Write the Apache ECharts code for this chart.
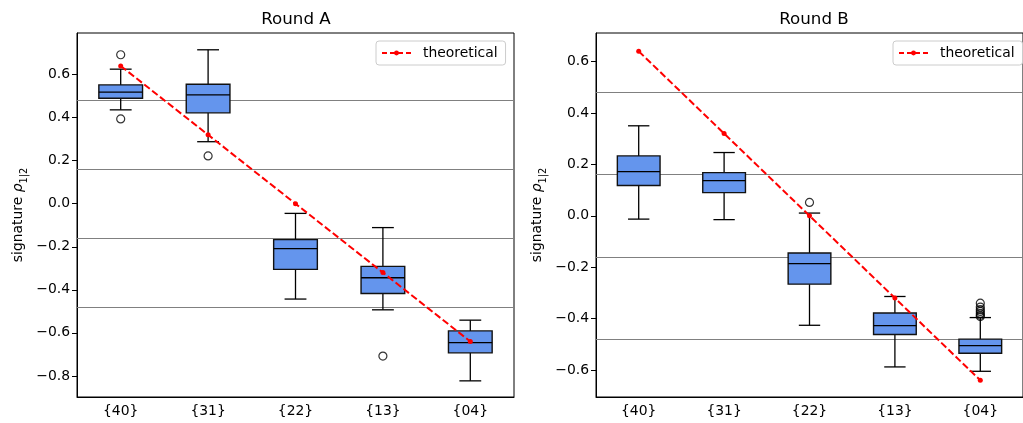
<!DOCTYPE html>
<html><head><meta charset="utf-8">
<script src="https://cdn.jsdelivr.net/npm/echarts@6/dist/echarts.min.js"></script>
<style>html,body{margin:0;padding:0;background:#fff}#c{width:1023px;height:423px}</style>
</head><body><div id="c"></div>
<script>
const categories = ['{40}', '{31}', '{22}', '{13}', '{04}'];
const theoretical = [0.64, 0.32, 0, -0.32, -0.64];
const refLines = [0.48, 0.16, -0.16, -0.48];
// each box: [lower whisker, Q1, median, Q3, upper whisker]
const boxA = [
  [0.436, 0.490, 0.518, 0.552, 0.625],
  [0.288, 0.422, 0.506, 0.555, 0.715],
  [-0.443, -0.305, -0.209, -0.167, -0.045],
  [-0.493, -0.417, -0.344, -0.291, -0.111],
  [-0.823, -0.693, -0.645, -0.591, -0.541]
];
const outliersA = [[0, 0.692], [0, 0.394], [1, 0.222], [3, -0.708]];
const boxB = [
  [-0.013, 0.118, 0.172, 0.233, 0.350],
  [-0.015, 0.090, 0.137, 0.168, 0.246],
  [-0.426, -0.266, -0.186, -0.145, 0.0105],
  [-0.588, -0.462, -0.427, -0.378, -0.314],
  [-0.605, -0.535, -0.505, -0.480, -0.396]
];
const outliersB = [[2, 0.052], [4, -0.340], [4, -0.355], [4, -0.365], [4, -0.372], [4, -0.380], [4, -0.387], [4, -0.392]];
const yTicksA = [-0.8, -0.6, -0.4, -0.2, 0, 0.2, 0.4, 0.6];
const yTicksB = [-0.6, -0.4, -0.2, 0, 0.2, 0.4, 0.6];
const yRangeA = [-0.898, 0.793];
const yRangeB = [-0.705, 0.711];
const titles = ['Round A', 'Round B'];

const FONT = 'DejaVu Sans';
const chart = echarts.init(document.getElementById('c'), null, {renderer: 'canvas'});

function renderBox(params, api) {
  const x = api.value(0);
  const lo = api.coord([x, api.value(1)]);
  const q1 = api.coord([x, api.value(2)]);
  const md = api.coord([x, api.value(3)]);
  const q3 = api.coord([x, api.value(4)]);
  const hi = api.coord([x, api.value(5)]);
  const band = api.size([1, 0])[0];
  const hw = band * 0.25, cw = band * 0.125;
  const cx = lo[0];
  const ls = {stroke: '#000', lineWidth: 1.3};
  return {type: 'group', children: [
    {type: 'line', shape: {x1: cx, y1: q1[1], x2: cx, y2: lo[1]}, style: ls},
    {type: 'line', shape: {x1: cx, y1: q3[1], x2: cx, y2: hi[1]}, style: ls},
    {type: 'line', shape: {x1: cx - cw, y1: lo[1], x2: cx + cw, y2: lo[1]}, style: ls},
    {type: 'line', shape: {x1: cx - cw, y1: hi[1], x2: cx + cw, y2: hi[1]}, style: ls},
    {type: 'rect', shape: {x: cx - hw, y: q3[1], width: 2 * hw, height: q1[1] - q3[1]},
      style: {fill: '#6495ED', stroke: '#111', lineWidth: 1.4}},
    {type: 'line', shape: {x1: cx - hw, y1: md[1], x2: cx + hw, y2: md[1]}, style: ls}
  ]};
}

const grids = [
  {left: 77, top: 33, width: 437, height: 364},
  {left: 596, top: 33, width: 436, height: 364}
];
const boxes = [boxA, boxB];
const outs = [outliersA, outliersB];
const yTicks = [yTicksA, yTicksB];
const yRanges = [yRangeA, yRangeB];
const titleX = [296, 814];
const legendX = [376, 893];

const fmt = v => (Math.abs(v) < 1e-9 ? 0 : v).toFixed(1).replace('-', '\u2212');

const option = {
  animation: false,
  backgroundColor: '#fff',
  title: titles.map((t, i) => ({
    text: t, left: titleX[i], top: 11, textAlign: 'center', padding: 0,
    textStyle: {fontFamily: FONT, fontSize: 16.7, fontWeight: 'normal', color: '#000'}
  })),
  legend: [0, 1].map(i => ({
    data: ['theoretical'], left: legendX[i], top: 41, orient: 'horizontal',
    padding: [5, 8, 5, 5], itemWidth: 29, itemHeight: 6,
    borderColor: '#cccccc', borderWidth: 1, borderRadius: 3, backgroundColor: 'rgba(255,255,255,0.8)',
    lineStyle: {color: '#ff0000', type: [5, 3], width: 2},
    itemStyle: {color: '#ff0000'},
    textStyle: {fontFamily: FONT, fontSize: 13.9, color: '#000', padding: [0, 0, 0, 7]},
    selectedMode: false
  })),
  grid: grids.map(g => Object.assign({show: true, borderColor: '#000', borderWidth: 1, backgroundColor: 'transparent'}, g)),
  xAxis: [0, 1].map(i => ({
    type: 'category', gridIndex: i, data: categories, boundaryGap: true,
    axisLine: {onZero: false, lineStyle: {color: '#000', width: 1}},
    axisTick: {alignWithLabel: true, length: 5, lineStyle: {color: '#000', width: 1}},
    axisLabel: {fontFamily: FONT, fontSize: 13.9, color: '#000', margin: 7},
    splitLine: {show: false}
  })),
  yAxis: [0, 1].map(i => ({
    type: 'value', gridIndex: i, min: yRanges[i][0], max: yRanges[i][1],
    axisLine: {show: true, onZero: false, lineStyle: {color: '#000', width: 1}},
    axisTick: {show: true, length: 5, lineStyle: {color: '#000', width: 1}, customValues: yTicks[i]},
    axisLabel: {fontFamily: FONT, fontSize: 13.9, color: '#000', margin: 7, customValues: yTicks[i], formatter: fmt},
    splitLine: {show: false},
    name: '{a|signature }{r|ρ}{s|1|2}', nameLocation: 'middle', nameGap: 48, nameRotate: 90,
    nameTextStyle: {rich: {
      a: {fontFamily: FONT, fontSize: 13.9, color: '#000', lineHeight: 22, verticalAlign: 'middle'},
      r: {fontFamily: FONT, fontSize: 13.9, fontStyle: 'italic', color: '#000', lineHeight: 22, verticalAlign: 'middle'},
      s: {fontFamily: FONT, fontSize: 9.7, color: '#000', lineHeight: 10, verticalAlign: 'bottom'}
    }}
  })),
  series: []
};

[0, 1].forEach(i => {
  option.series.push({
    type: 'line', xAxisIndex: i, yAxisIndex: i, data: [], z: 1, silent: true,
    markLine: {
      z: 1, silent: true, symbol: ['none', 'none'], label: {show: false},
      lineStyle: {color: '#808080', type: 'solid', width: 1},
      data: refLines.map(v => ({yAxis: v}))
    }
  });
  option.series.push({
    type: 'custom', xAxisIndex: i, yAxisIndex: i, z: 6, silent: true,
    renderItem: renderBox,
    encode: {x: 0, y: [1, 2, 3, 4, 5]},
    data: boxes[i].map((b, k) => [k].concat(b))
  });
  option.series.push({
    type: 'scatter', xAxisIndex: i, yAxisIndex: i, z: 7, silent: true,
    symbol: 'circle', symbolSize: 8,
    itemStyle: {color: 'rgba(0,0,0,0)', borderColor: '#000', borderWidth: 1.2},
    data: outs[i]
  });
  option.series.push({
    name: 'theoretical', type: 'line', xAxisIndex: i, yAxisIndex: i, z: 8,
    data: theoretical, symbol: 'circle', symbolSize: 5, showSymbol: true,
    itemStyle: {color: '#ff0000'},
    lineStyle: {color: '#ff0000', type: [7, 3], width: 2}
  });
});

chart.setOption(option);
</script>
</body></html>
